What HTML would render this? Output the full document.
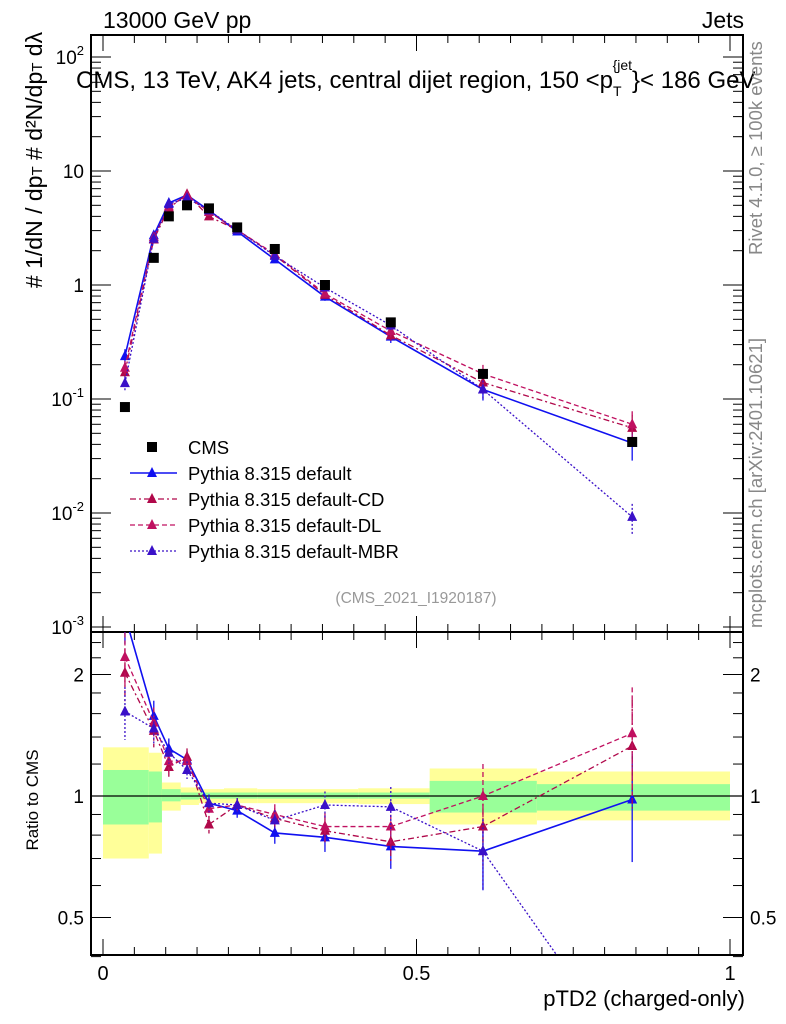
<!DOCTYPE html>
<html><head><meta charset="utf-8">
<style>
html,body{margin:0;background:#fff;width:786px;height:1024px;overflow:hidden;font-family:"Liberation Sans",sans-serif;}
svg{position:absolute;left:0;top:0;overflow:hidden;}
text{font-family:"Liberation Sans",sans-serif;}
</style></head>
<body>
<svg id="chart" width="786" height="1024"></svg>
<script>
const xVals=[0.035,0.081,0.105,0.134,0.169,0.214,0.274,0.354,0.459,0.606,0.844];
const binEdges=[0,0.073,0.094,0.124,0.153,0.193,0.246,0.407,0.521,0.692,1.0];
const cmsVals=[0.085,1.73,4.0,5.0,4.7,3.2,2.07,1.0,0.47,0.166,0.042];
const greenUp=[1.16,1.15,1.04,1.02,1.02,1.02,1.02,1.02,1.09,1.07];
const greenDn=[0.85,0.86,0.97,0.98,0.985,0.985,0.985,0.985,0.91,0.92];
const yellowUp=[1.32,1.28,1.08,1.05,1.04,1.045,1.04,1.045,1.17,1.15];
const yellowDn=[0.70,0.72,0.92,0.95,0.96,0.96,0.96,0.955,0.85,0.87];
const ratioDefault=[2.8,1.58,1.31,1.23,0.96,0.92,0.81,0.79,0.75,0.73,0.98];
const ratioCD=[2.02,1.45,1.18,1.25,0.85,0.95,0.88,0.82,0.77,0.84,1.33];
const ratioDL=[2.21,1.52,1.22,1.22,0.93,0.95,0.90,0.84,0.84,1.00,1.43];
const ratioMBR=[1.62,1.47,1.28,1.16,0.96,0.95,0.87,0.95,0.94,0.73,0.22];
const relErr=[0.15,0.09,0.06,0.05,0.05,0.04,0.06,0.08,0.12,0.2,0.3];
const mainTicks=[2,1,0,-1,-2,-3];
const ratioTicks=[2,1,0.5];
const xTicks=[0,0.5,1];

const L=91,R=743,T=35,MB=632,RB=955;
const X=v=>103+627*v;
const Y=v=>285-114*Math.log10(v);
const YR=r=>796-403.6*Math.log10(r);
const svg=document.getElementById('chart');
const NS='http://www.w3.org/2000/svg';
function mk(tag,attrs,parent){const e=document.createElementNS(NS,tag);for(const k in attrs)e.setAttribute(k,attrs[k]);(parent||svg).appendChild(e);return e;}

const bands=mk('g',{});


binEdges.slice(0,-1).forEach((e,i)=>{
  const x0=X(e),x1=X(binEdges[i+1]);
  const ry=mk('rect',{x:x0,y:YR(yellowUp[i]),width:x1-x0,height:YR(yellowDn[i])-YR(yellowUp[i]),fill:'#ffff99'},bands);
  
  
  const rg=mk('rect',{x:x0,y:YR(greenUp[i]),width:x1-x0,height:YR(greenDn[i])-YR(greenUp[i]),fill:'#99ff99'},bands);
  
  
});
mk('line',{x1:L,x2:R,y1:YR(1),y2:YR(1),stroke:'#000','stroke-width':1.2});

const f1=mk('rect',{x:L,y:T,width:R-L,height:MB-T,fill:'none',stroke:'#000','stroke-width':2});


const f2=mk('rect',{x:L,y:MB,width:R-L,height:RB-MB,fill:'none',stroke:'#000','stroke-width':2});



for(let k=0;k<=20;k++){const v=k*0.05,x=X(v),big=(k%10===0),len=big?16:8;
  [[T,1],[MB,-1],[MB,1],[RB,-1]].forEach(([y,d])=>mk('line',{x1:x,x2:x,y1:y,y2:y+d*len,stroke:'#000','stroke-width':1}));}
xTicks.forEach(v=>{const t=mk('text',{x:X(v),y:980,'font-size':20,'text-anchor':'middle'});t.textContent=String(v);
  
  });

for(let d=-3;d<=2;d++){for(let m=1;m<10;m++){const v=m*Math.pow(10,d),y=Y(v);if(y<T||y>MB)continue;
  const len=m===1?20:10;mk('line',{x1:L,x2:L+len,y1:y,y2:y,stroke:'#000'});mk('line',{x1:R,x2:R-len,y1:y,y2:y,stroke:'#000'});}}
mainTicks.forEach(p=>{const y=Y(Math.pow(10,p));const t=mk('text',{x:84,y:y+7,'font-size':19,'text-anchor':'end'});
  
  
  if(p===0)t.textContent='1';else if(p===1)t.textContent='10';
  else{t.textContent='10';const s=mk('tspan',{dy:-9,'font-size':13},t);s.textContent=String(p);}});

[0.4,0.5,0.6,0.7,0.8,0.9,1,1.2,1.4,1.6,1.8,2,2.2,2.4].forEach(r=>{const y=YR(r);const big=(r===0.5||r===1||r===2);const len=big?20:10;
  mk('line',{x1:L,x2:L+len,y1:y,y2:y,stroke:'#000'});mk('line',{x1:R,x2:R-len,y1:y,y2:y,stroke:'#000'});});
ratioTicks.forEach(r=>{const y=YR(r)+7;
  const t1=mk('text',{x:84,y:y,'font-size':19,'text-anchor':'end'});t1.textContent=String(r);
  
  
  const t2=mk('text',{x:750,y:y,'font-size':19});t2.textContent=String(r);
  
  });

const series=[
 {name:'pythia-default',r:ratioDefault,c:'#1010f0',dash:'',w:1.6},
 {name:'pythia-default-cd',r:ratioCD,c:'#b0084a',dash:'6 3 2 3',w:1.3},
 {name:'pythia-default-dl',r:ratioDL,c:'#c01060',dash:'5 3',w:1.3},
 {name:'pythia-default-mbr',r:ratioMBR,c:'#3a10c8',dash:'2 2',w:1.3}];
const clipM=mk('clipPath',{id:'cm'});mk('rect',{x:L,y:T,width:R-L,height:MB-T},clipM);
const clipR=mk('clipPath',{id:'cr'});mk('rect',{x:L,y:MB,width:R-L,height:RB-MB},clipR);
function tri(g,x,y,c){mk('path',{d:`M${x-5},${y+4}L${x+5},${y+4}L${x},${y-6}Z`,fill:c},g);}
series.forEach(s=>{
  const gm=mk('g',{'clip-path':'url(#cm)'});
  
  
  const gr=mk('g',{'clip-path':'url(#cr)'});
  
  
  const vals=xVals.map((x,i)=>cmsVals[i]*s.r[i]);
  mk('polyline',{points:xVals.map((x,i)=>X(x)+','+Y(vals[i])).join(' '),fill:'none',stroke:s.c,'stroke-width':s.w,'stroke-dasharray':s.dash},gm);
  mk('polyline',{points:xVals.map((x,i)=>X(x)+','+YR(s.r[i])).join(' '),fill:'none',stroke:s.c,'stroke-width':s.w,'stroke-dasharray':s.dash},gr);
  xVals.forEach((x,i)=>{const e=relErr[i];
    mk('line',{x1:X(x),x2:X(x),y1:Y(vals[i]*(1+e)),y2:Y(vals[i]*(1-e)),stroke:s.c,'stroke-width':1.3,'stroke-dasharray':s.dash},gm);
    mk('line',{x1:X(x),x2:X(x),y1:YR(s.r[i]*(1+e)),y2:YR(s.r[i]*(1-e)),stroke:s.c,'stroke-width':1.3,'stroke-dasharray':s.dash},gr);
    tri(gm,X(x),Y(vals[i]),s.c);tri(gr,X(x),YR(s.r[i]),s.c);});
});
const gc=mk('g',{});


xVals.forEach((x,i)=>mk('rect',{x:X(x)-5,y:Y(cmsVals[i])-5,width:10,height:10,fill:'#000'},gc));

const lg=mk('g',{});


mk('rect',{x:147,y:442,width:10,height:10,fill:'#000'},lg);
const labels=['CMS','Pythia 8.315 default','Pythia 8.315 default-CD','Pythia 8.315 default-DL','Pythia 8.315 default-MBR'];
labels.forEach((l,i)=>{const y=447+26*i;
  if(i>0){const s=series[i-1];mk('line',{x1:130,x2:177,y1:y,y2:y,stroke:s.c,'stroke-width':s.w,'stroke-dasharray':s.dash},lg);tri(lg,152,y,s.c);}
  const t=mk('text',{x:188,y:y+7,'font-size':18.5},lg);t.textContent=l;
  
  });
</script>
<svg width="786" height="1024" style="pointer-events:none">
<text x="103" y="28" font-size="23">13000 GeV pp</text>
<text x="744" y="28" font-size="23" text-anchor="end">Jets</text>
<text x="76" y="88" font-size="24">CMS, 13 TeV, AK4 jets, central dijet region, 150 &lt;p<tspan dy="8" font-size="14">T</tspan><tspan dy="-26" dx="-9" font-size="14">{jet</tspan><tspan dy="18">}&lt; 186 GeV</tspan></text>
<text transform="translate(42,160) rotate(-90)" font-size="23" text-anchor="middle"># 1/dN / dp<tspan font-size="15">T</tspan> # d²N/dp<tspan font-size="15">T</tspan> dλ</text>
<text transform="translate(38,800) rotate(-90)" font-size="17" text-anchor="middle">Ratio to CMS</text>
<text x="416" y="603" font-size="15.5" fill="#999" text-anchor="middle">(CMS_2021_I1920187)</text>
<text transform="translate(762,255) rotate(-90)" font-size="18.5" fill="#888">Rivet 4.1.0, ≥ 100k events</text>
<text transform="translate(762,628) rotate(-90)" font-size="18.5" fill="#888">mcplots.cern.ch [arXiv:2401.10621]</text>
<text x="745" y="1006" font-size="22" text-anchor="end">pTD2 (charged-only)</text>
</svg>
</body></html>
